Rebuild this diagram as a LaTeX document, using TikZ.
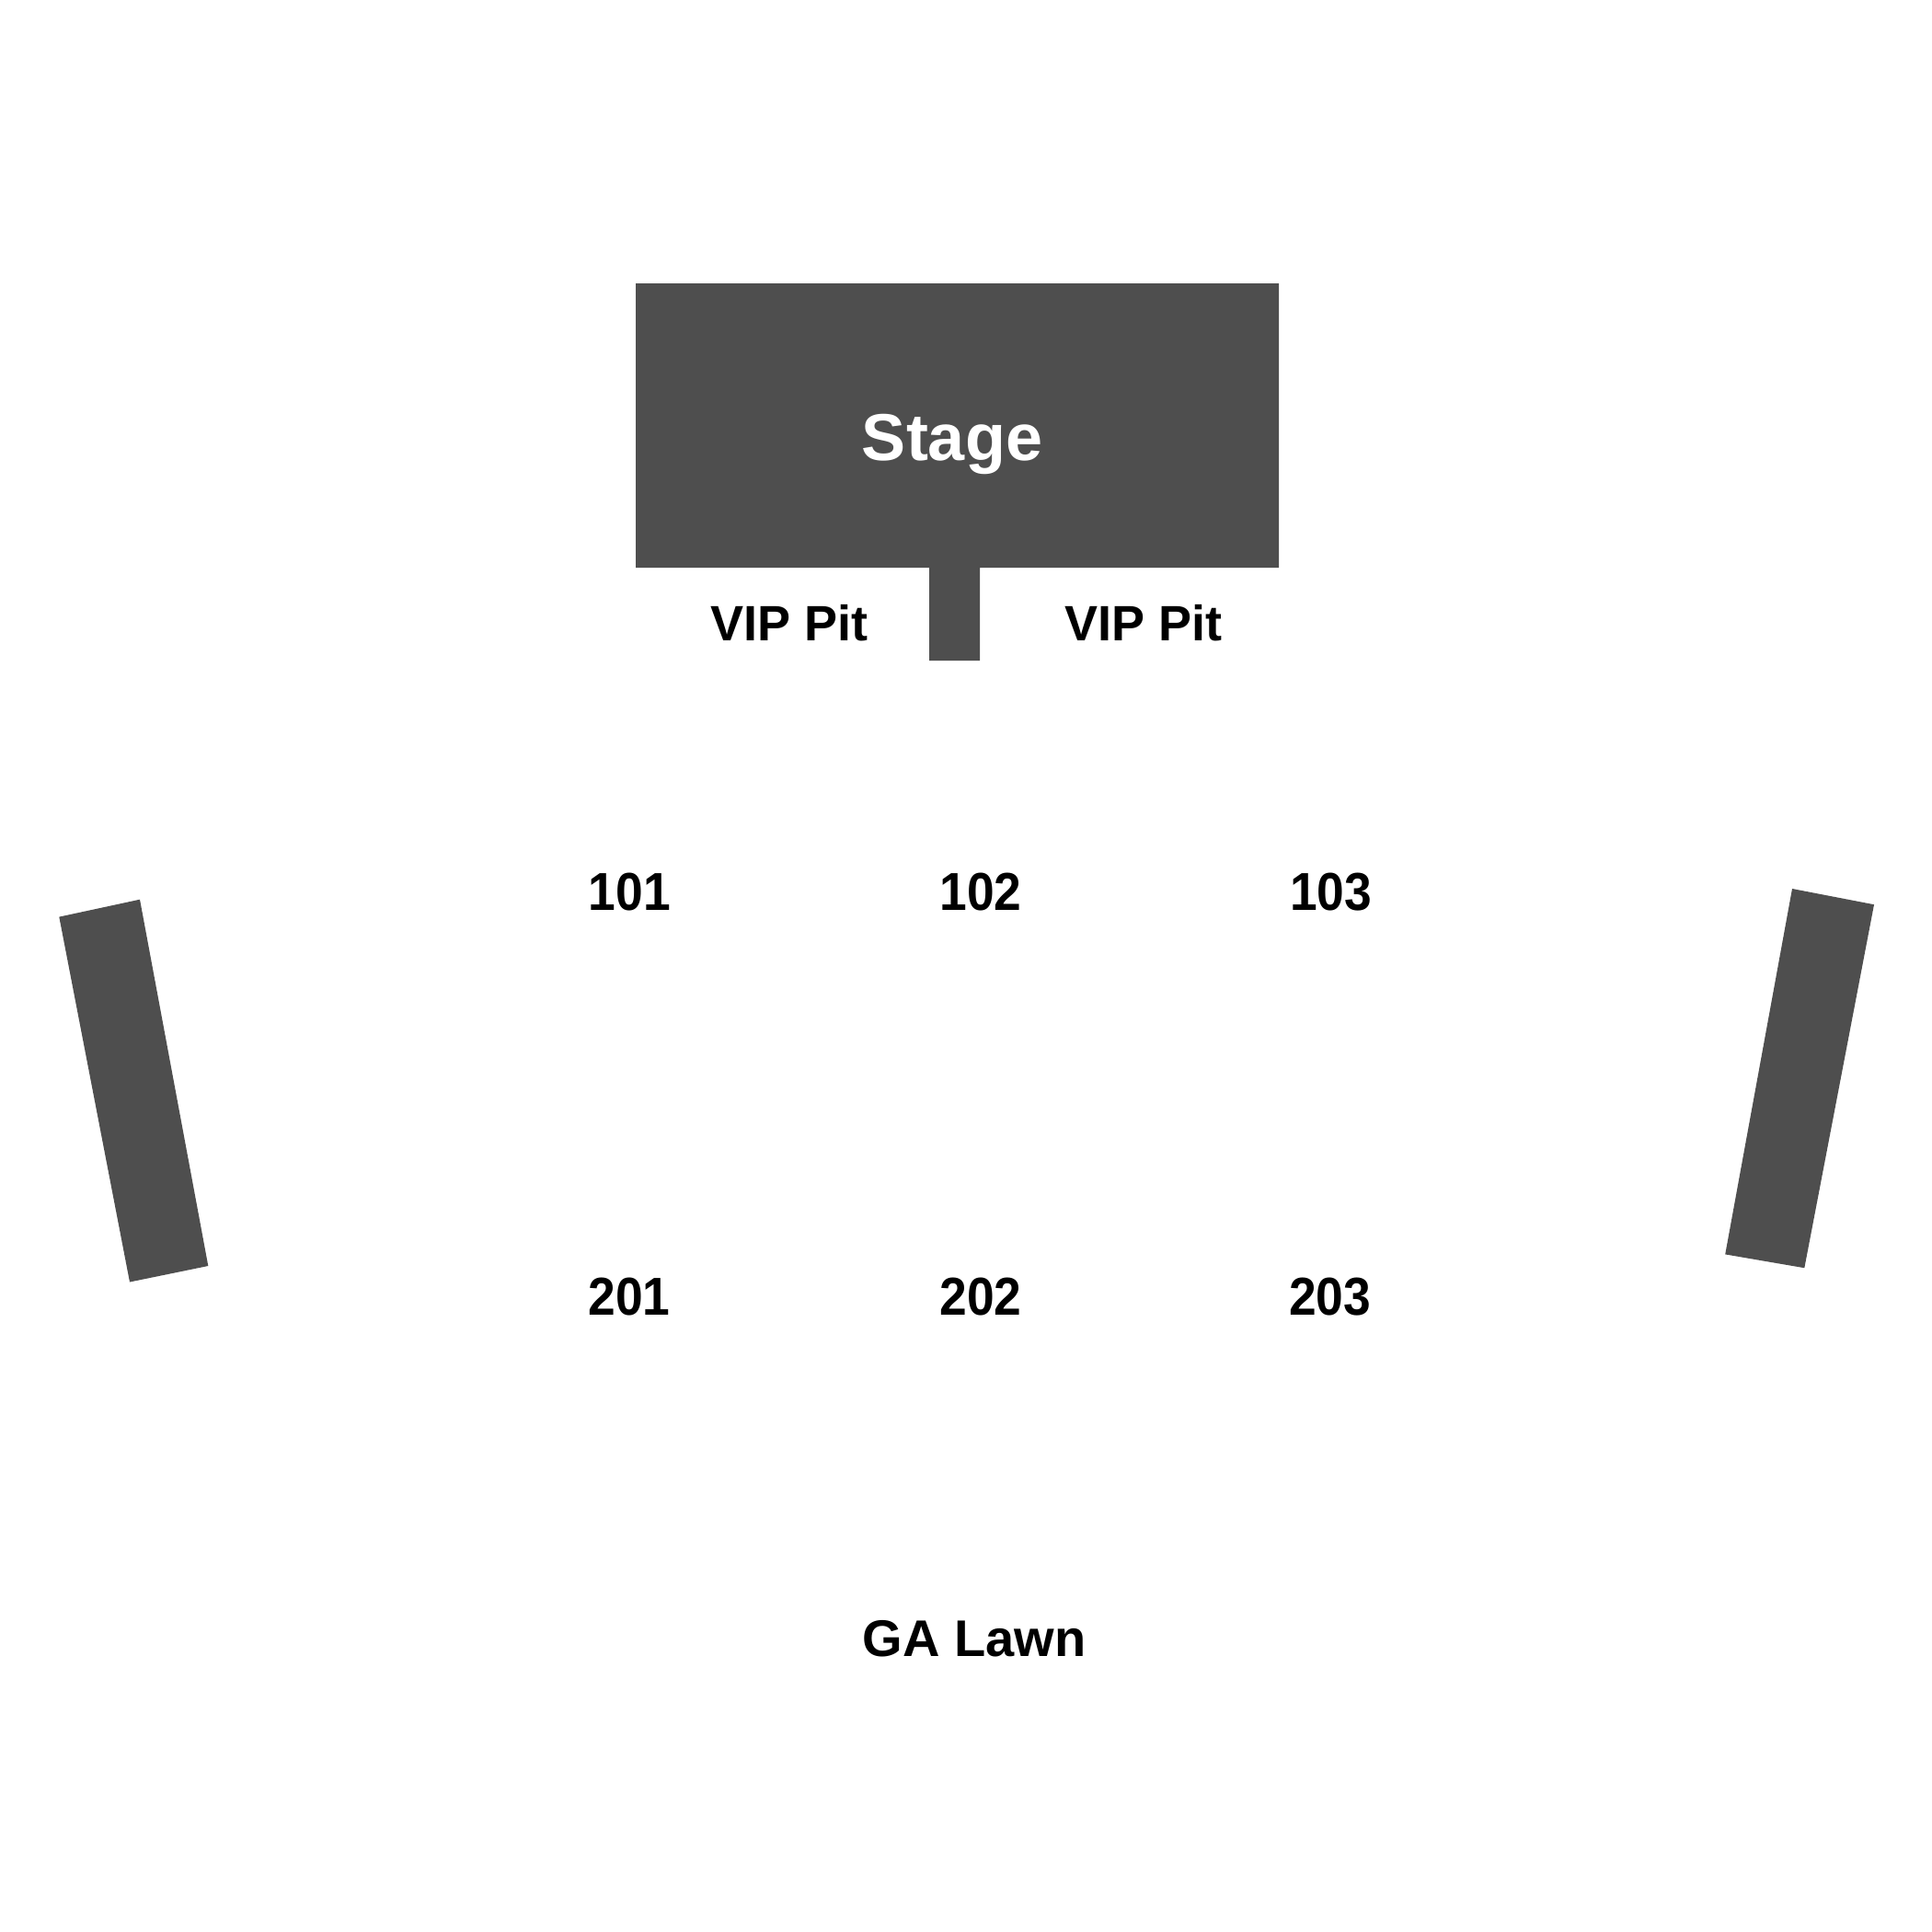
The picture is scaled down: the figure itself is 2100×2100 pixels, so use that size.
\documentclass[tikz,border=0pt]{standalone}
\usepackage{fontspec}
\setmainfont{Liberation Sans}
\definecolor{block}{HTML}{4E4E4E}
\tikzset{
  blockfill/.style={fill=block, draw=none},
  lbl/.style={font=\bfseries\fontsize{#1}{#1}\selectfont, inner sep=0pt, anchor=base, text=black},
  lbl/.default=57,
  numlbl/.style={lbl=58, xscale=0.92}
}
\begin{document}
\begin{tikzpicture}[x=1pt,y=-1pt]
\useasboundingbox (0,0) rectangle (2100,2100);
% stage with runway
\path[blockfill] (691,308) -- (1390,308) -- (1390,617) -- (1065,617) -- (1065,718) -- (1010,718) -- (1010,617) -- (691,617) -- cycle;
% side bars
\path[blockfill] (64.3,996.6) -- (152,977.7) -- (226.3,1376) -- (141,1393.5) -- cycle;
\path[blockfill] (1948,966) -- (2037,983.2) -- (1961.3,1378.2) -- (1875.2,1363.4) -- cycle;
% labels
\node[lbl=72, text=white] (stage) at (1035,500) {Stage};
\node[lbl=54] (vipl) at (858,696.5) {VIP Pit};
\node[lbl=54] (vipr) at (1243,696.5) {VIP Pit};
\node[numlbl] (s101) at (684.5,989.3) {101};
\node[numlbl] (s102) at (1066,989.3) {102};
\node[numlbl] (s103) at (1446.5,989.3) {103};
\node[numlbl] (s201) at (684,1429.3) {201};
\node[numlbl] (s202) at (1066,1429.3) {202};
\node[numlbl] (s203) at (1445.5,1429.3) {203};
\node[lbl=56] (ga) at (1059,1800) {GA Lawn};
\end{tikzpicture}
\end{document}
